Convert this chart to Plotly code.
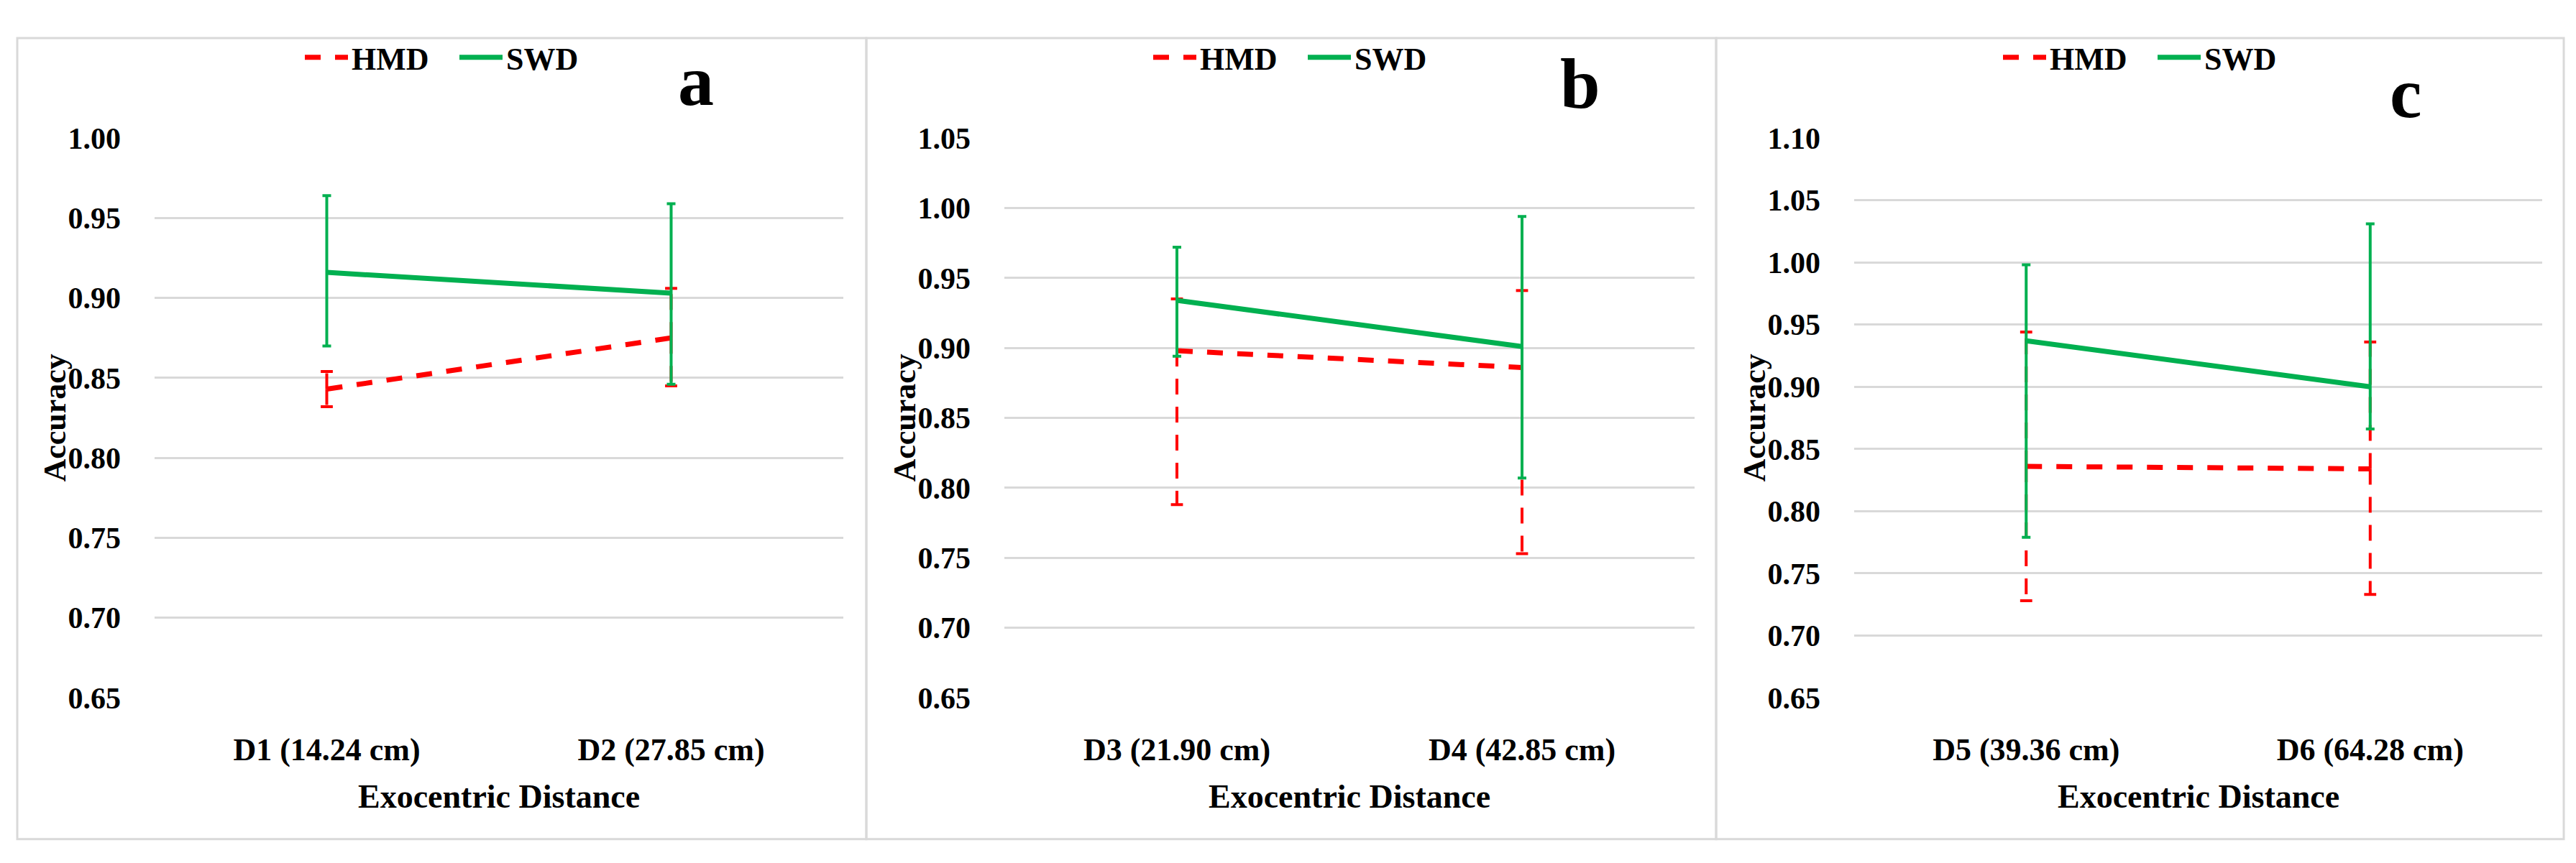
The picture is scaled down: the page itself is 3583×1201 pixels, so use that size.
import plotly.graph_objects as go

# ---------------- data ----------------
categories_a = ["D1 (14.24 cm)", "D2 (27.85 cm)"]
categories_b = ["D3 (21.90 cm)", "D4 (42.85 cm)"]
categories_c = ["D5 (39.36 cm)", "D6 (64.28 cm)"]

hmd_a = [0.843, 0.875]
hmd_a_plus = [0.011, 0.031]
hmd_a_minus = [0.011, 0.030]
swd_a = [0.916, 0.903]
swd_a_plus = [0.048, 0.056]
swd_a_minus = [0.046, 0.057]

hmd_b = [0.898, 0.886]
hmd_b_plus = [0.037, 0.055]
hmd_b_minus = [0.110, 0.133]
swd_b = [0.934, 0.901]
swd_b_plus = [0.038, 0.093]
swd_b_minus = [0.040, 0.094]

hmd_c = [0.836, 0.834]
hmd_c_plus = [0.108, 0.102]
hmd_c_minus = [0.108, 0.101]
swd_c = [0.937, 0.900]
swd_c_plus = [0.061, 0.131]
swd_c_minus = [0.158, 0.034]

y_ranges = [(0.65, 1.00), (0.65, 1.05), (0.65, 1.10)]
panel_letters = ["a", "b", "c"]
series_names = ["HMD", "SWD"]
x_title = "Exocentric Distance"
y_title = "Accuracy"

# ---------------- style ----------------
W, H = 3583, 1201
RED = "#FF0000"
GREEN = "#00B050"
GRID = "#D9D9D9"
FONT = "Liberation Serif, Times New Roman, serif"


def fx(p):
    return p / W


def fy(p):
    return 1 - p / H


panels = [
    dict(cats=categories_a, hmd=hmd_a, hp=hmd_a_plus, hm=hmd_a_minus,
         swd=swd_a, sp=swd_a_plus, sm=swd_a_minus,
         plot=(207, 1165), box=(16, 1197), legend_cx=626, letter=(960, 86)),
    dict(cats=categories_b, hmd=hmd_b, hp=hmd_b_plus, hm=hmd_b_minus,
         swd=swd_b, sp=swd_b_plus, sm=swd_b_minus,
         plot=(1389, 2349), box=(1197, 2379), legend_cx=1806, letter=(2190, 90)),
    dict(cats=categories_c, hmd=hmd_c, hp=hmd_c_plus, hm=hmd_c_minus,
         swd=swd_c, sp=swd_c_plus, sm=swd_c_minus,
         plot=(2571, 3528), box=(2379, 3558), legend_cx=2988, letter=(3338, 103)),
]

PLOT_TOP, PLOT_BOTTOM = 168, 978
BOX_TOP, BOX_BOTTOM = 24, 1182

fig = go.Figure()
layout = dict(
    width=W, height=H,
    margin=dict(l=0, r=0, t=0, b=0),
    paper_bgcolor="white", plot_bgcolor="white",
    shapes=[], annotations=[],
)

for i, p in enumerate(panels):
    sfx = "" if i == 0 else str(i + 1)
    xa, ya = "x" + sfx, "y" + sfx
    leg = "legend" + sfx
    cats = p["cats"]

    # HMD dashed error bars (drawn from the mean outward)
    ex, ey = [], []
    for c, m, up, dn in zip(cats, p["hmd"], p["hp"], p["hm"]):
        ex += [c, c, None, c, c, None]
        ey += [m, m + up, None, m, m - dn, None]
    fig.add_trace(go.Scatter(
        x=ex, y=ey, mode="lines", xaxis=xa, yaxis=ya,
        line=dict(color=RED, width=4, dash="22px,17px"),
        showlegend=False, hoverinfo="skip"))
    fig.add_trace(go.Scatter(
        x=cats + cats,
        y=[m + u for m, u in zip(p["hmd"], p["hp"])] + [m - d for m, d in zip(p["hmd"], p["hm"])],
        mode="markers", xaxis=xa, yaxis=ya,
        marker=dict(symbol="line-ew", size=12, color=RED, line=dict(color=RED, width=4)),
        showlegend=False, hoverinfo="skip"))

    # HMD line
    fig.add_trace(go.Scatter(
        x=cats, y=p["hmd"], mode="lines", name=series_names[0],
        xaxis=xa, yaxis=ya, legend=leg,
        line=dict(color=RED, width=7, dash="22px,20px")))

    # SWD line with error bars
    fig.add_trace(go.Scatter(
        x=cats, y=p["swd"], mode="lines", name=series_names[1],
        xaxis=xa, yaxis=ya, legend=leg,
        line=dict(color=GREEN, width=7),
        error_y=dict(type="data", symmetric=False, array=p["sp"], arrayminus=p["sm"],
                     color=GREEN, thickness=4, width=6)))

    lo, hi = y_ranges[i]
    layout["xaxis" + sfx] = dict(
        domain=[fx(p["plot"][0]), fx(p["plot"][1])],
        anchor=ya, type="category", categoryorder="array", categoryarray=cats,
        range=[-0.5, 1.5], showgrid=False, showline=False, zeroline=False,
        ticks="", ticklabelstandoff=42,
        tickfont=dict(family=FONT, size=44, color="black", weight="bold"),
    )
    layout["yaxis" + sfx] = dict(
        domain=[fy(PLOT_BOTTOM), fy(PLOT_TOP)],
        anchor=xa, range=[lo - 0.0002, hi + 0.0002], tick0=0.65, dtick=0.05,
        tickformat=".2f", showgrid=True, gridcolor=GRID, gridwidth=3,
        showline=False, zeroline=False, ticks="", ticklabelstandoff=46,
        tickfont=dict(family=FONT, size=42, color="black", weight="bold"),
    )
    layout[leg] = dict(
        x=fx(p["legend_cx"]), y=fy(52), xanchor="center", yanchor="middle",
        orientation="h", bgcolor="rgba(0,0,0,0)", itemwidth=60,
        entrywidth=140, entrywidthmode="pixels",
        font=dict(family=FONT, size=44, color="black", weight="bold"),
        traceorder="normal",
    )

    # panel border
    layout["shapes"].append(dict(
        type="rect", xref="paper", yref="paper",
        x0=fx(p["box"][0]), x1=fx(p["box"][1]), y0=fy(BOX_BOTTOM), y1=fy(BOX_TOP),
        line=dict(color=GRID, width=3), fillcolor="rgba(0,0,0,0)", layer="below"))

    pcx = (p["plot"][0] + p["plot"][1]) / 2
    # x title
    layout["annotations"].append(dict(
        text=x_title, xref="paper", yref="paper", x=fx(pcx), y=fy(1120),
        xanchor="center", yanchor="middle", showarrow=False,
        font=dict(family=FONT, size=46, color="black", weight="bold")))
    # y title
    layout["annotations"].append(dict(
        text=y_title, xref="paper", yref="paper", x=fx(p["plot"][0] - 138),
        y=fy((PLOT_TOP + PLOT_BOTTOM) / 2), textangle=-90,
        xanchor="center", yanchor="middle", showarrow=False,
        font=dict(family=FONT, size=44, color="black", weight="bold")))
    # panel letter
    layout["annotations"].append(dict(
        text=panel_letters[i], xref="paper", yref="paper",
        x=fx(p["letter"][0]), y=fy(p["letter"][1]),
        xanchor="center", yanchor="middle", showarrow=False,
        font=dict(family=FONT, size=100, color="black", weight="bold")))

fig.update_layout(**layout)
fig.write_html("out.html")
